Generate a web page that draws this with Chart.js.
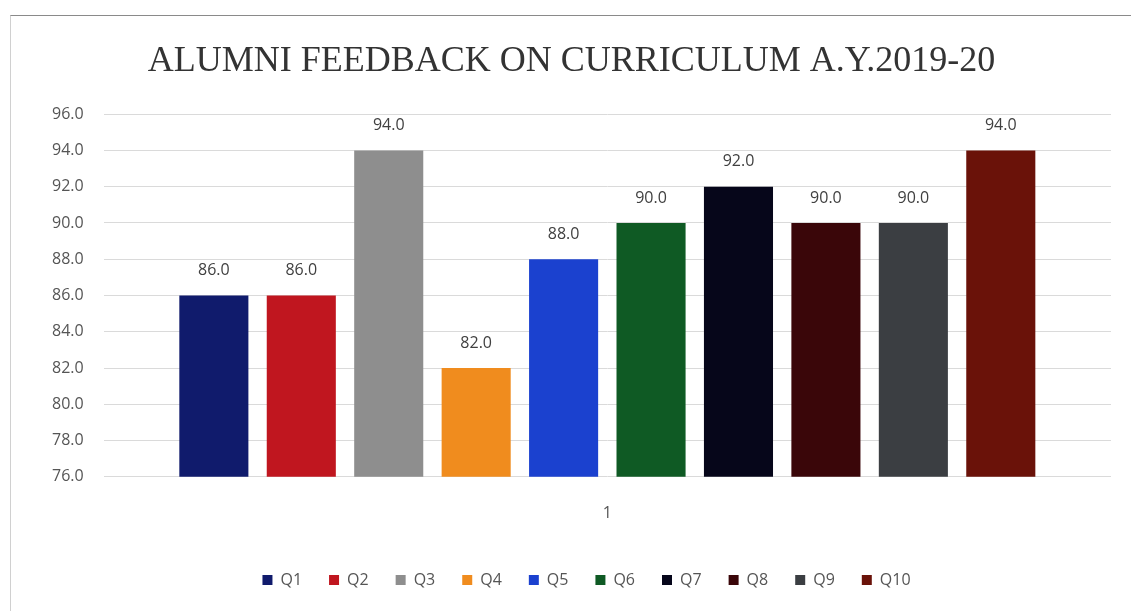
<!DOCTYPE html>
<html>
<head>
<meta charset="utf-8">
<script src="https://cdn.jsdelivr.net/npm/chart.js@4.4.0/dist/chart.umd.min.js"></script>
<style>
  html, body { margin: 0; padding: 0; background: #fff; }
  #wrap { position: relative; width: 1131px; height: 611px; overflow: hidden; }
  #frame {
    position: absolute; left: 10px; top: 15px; width: 1121px; height: 596px;
    border-top: 1px solid #8a8a8a; border-left: 1px solid #d0d0d0; box-sizing: border-box;
  }
</style>
</head>
<body>
<div id="wrap">
  <div id="frame"><canvas id="chart"></canvas></div>
</div>
<script>
  // data
  const categories = ["1"];
  const seriesNames = ["Q1", "Q2", "Q3", "Q4", "Q5", "Q6", "Q7", "Q8", "Q9", "Q10"];
  const seriesValues = [86, 86, 94, 82, 88, 90, 92, 90, 90, 94];
  const barColors = [
    "#101b6c", "#c0161f", "#8e8e8e", "#f08c1e", "#1b41cf",
    "#0f5a24", "#06061a", "#3a0609", "#3b3e42", "#6a1209",
  ];
  const yTicks = { min: 76, max: 96, step: 2 };

  // labels on top of the bars, legend nudged right like the original
  const barLabels = {
    id: "barLabels",
    afterLayout(chart) {
      chart.legend.left += 15;
      chart.legend.right += 15;
    },
    afterDatasetsDraw(chart) {
      const ctx = chart.ctx;
      ctx.save();
      ctx.font = "16px 'Open Sans'";
      ctx.fillStyle = "#404040";
      ctx.textAlign = "center";
      ctx.textBaseline = "middle";
      chart.data.datasets.forEach((ds, i) => {
        chart.getDatasetMeta(i).data.forEach((bar, j) => {
          ctx.fillText(ds.data[j].toFixed(1), bar.x, bar.y - 25);
        });
      });
      ctx.restore();
    },
  };

  const ctx = document.getElementById("chart").getContext("2d");
  new Chart(ctx, {
    type: "bar",
    data: {
      labels: categories,
      datasets: seriesNames.map((name, i) => ({
        label: name,
        data: [seriesValues[i]],
        backgroundColor: barColors[i],
        barPercentage: 0.79,
        categoryPercentage: 0.868,
      })),
    },
    options: {
      responsive: true,
      maintainAspectRatio: false,
      animation: false,
      layout: { padding: { left: 21, right: 20, top: 0, bottom: 13 } },
      plugins: {
        title: {
          display: true,
          text: "ALUMNI FEEDBACK ON CURRICULUM A.Y.2019-20",
          font: { family: "'Liberation Serif'", size: 36, weight: "normal" },
          color: "#333",
          padding: { top: 24, bottom: 31 },
        },
        legend: {
          position: "bottom",
          labels: {
            boxWidth: 10, boxHeight: 10, padding: 27,
            font: { family: "'Open Sans'", size: 16 },
            color: "#555",
          },
        },
        tooltip: { enabled: false },
      },
      scales: {
        x: {
          grid: { display: false },
          border: { display: false },
          ticks: { font: { family: "'Open Sans'", size: 16 }, color: "#555", padding: 19 },
          afterFit(scale) { scale.height += 3; },
        },
        y: {
          min: yTicks.min,
          max: yTicks.max,
          ticks: {
            stepSize: yTicks.step,
            font: { family: "'Open Sans'", size: 16 },
            color: "#555",
            padding: 20,
            callback: (v) => v.toFixed(1),
          },
          grid: { color: "#dadada", drawTicks: false },
          border: { display: false },
        },
      },
    },
    plugins: [barLabels],
  });
</script>
</body>
</html>
